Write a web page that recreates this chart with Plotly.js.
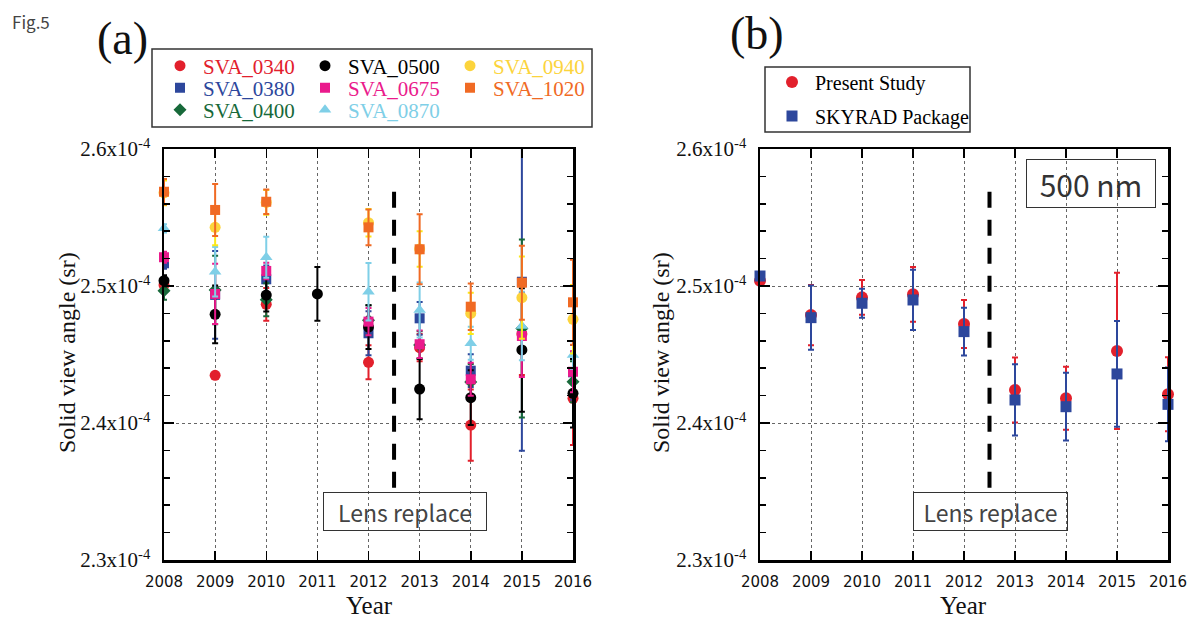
<!DOCTYPE html>
<html>
<head>
<meta charset="utf-8">
<script src="https://cdn.plot.ly/plotly-3.0.1.min.js"></script>
<style>html,body{margin:0;padding:0;background:#fff;}#chart{width:1192px;height:629px;}</style>
</head>
<body>
<div id="chart"></div>
<script>
// ---------------- DATA ----------------
const years = [2008, 2009, 2010, 2011, 2012, 2013, 2014, 2015, 2016];
const yearLabels = ['2008','2009','2010','2011','2012','2013','2014','2015','2016'];
const yTickVals = [2.3e-4, 2.4e-4, 2.5e-4, 2.6e-4];
const yTickText = ['2.3x10<sup>-4</sup>','2.4x10<sup>-4</sup>','2.5x10<sup>-4</sup>','2.6x10<sup>-4</sup>'];
const lensReplaceYear = 2012.5;

// Panel (a) : SVA per wavelength (sr)
const sva0340 = [2.5007e-4, 2.4348e-4, 2.4866e-4, null, 2.4443e-4, 2.4550e-4, 2.3985e-4, 2.4650e-4, 2.4180e-4];
const err0340 = [0.004e-4, 0.002e-4, 0.012e-4, null, 0.0124e-4, 0.010e-4, 0.026e-4, 0.030e-4, 0.034e-4];
const sva0380 = [2.5166e-4, 2.4935e-4, 2.5049e-4, null, 2.4655e-4, 2.4764e-4, 2.4382e-4, 2.5031e-4, 2.4370e-4];
const err0380 = [0.004e-4, 0.032e-4, 0.010e-4, null, 0.016e-4, 0.012e-4, 0.012e-4, 0.1233e-4, 0.020e-4];
const sva0400 = [2.4966e-4, 2.4970e-4, 2.4900e-4, null, 2.4750e-4, 2.4570e-4, 2.4300e-4, 2.4690e-4, 2.4301e-4];
const err0400 = [0.0066e-4, 0.025e-4, 0.012e-4, null, 0.011e-4, 0.010e-4, 0.013e-4, 0.065e-4, 0.015e-4];
const sva0500 = [2.5039e-4, 2.4793e-4, 2.4934e-4, 2.4942e-4, 2.4700e-4, 2.4248e-4, 2.4185e-4, 2.4533e-4, 2.4217e-4];
const err0500 = [0.004e-4, 0.021e-4, 0.012e-4, 0.0196e-4, 0.016e-4, 0.022e-4, 0.020e-4, 0.045e-4, 0.025e-4];
const sva0675 = [2.5210e-4, 2.4942e-4, 2.5110e-4, null, 2.4740e-4, 2.4575e-4, 2.4319e-4, 2.4635e-4, 2.4374e-4];
const err0675 = [0.004e-4, 0.022e-4, 0.006e-4, null, 0.010e-4, 0.010e-4, 0.012e-4, 0.030e-4, 0.015e-4];
const sva0870 = [2.5421e-4, 2.5104e-4, 2.5210e-4, null, 2.4958e-4, 2.4825e-4, 2.4582e-4, 2.4708e-4, 2.4496e-4];
const err0870 = [0.003e-4, 0.018e-4, 0.015e-4, null, 0.021e-4, 0.020e-4, 0.012e-4, 0.025e-4, 0.010e-4];
const sva0940 = [2.5680e-4, 2.5428e-4, 2.5610e-4, null, 2.5462e-4, 2.5270e-4, 2.4800e-4, 2.4915e-4, 2.4757e-4];
const err0940 = [0.009e-4, 0.013e-4, 0.009e-4, null, 0.010e-4, 0.013e-4, 0.015e-4, 0.030e-4, 0.025e-4];
const sva1020 = [2.5688e-4, 2.5555e-4, 2.5615e-4, null, 2.5428e-4, 2.5268e-4, 2.4849e-4, 2.5024e-4, 2.4881e-4];
const err1020 = [0.0093e-4, 0.019e-4, 0.009e-4, null, 0.013e-4, 0.0256e-4, 0.017e-4, 0.027e-4, 0.031e-4];

// Panel (b) : 500 nm comparison
const presentStudy = [2.5039e-4, 2.4788e-4, 2.4917e-4, 2.4939e-4, 2.4723e-4, 2.4241e-4, 2.4180e-4, 2.4526e-4, 2.4210e-4];
const presentErr   = [0.003e-4, 0.022e-4, 0.0126e-4, 0.020e-4, 0.0175e-4, 0.0237e-4, 0.023e-4, 0.057e-4, 0.027e-4];
const skyrad       = [2.5073e-4, 2.4769e-4, 2.4874e-4, 2.4898e-4, 2.4667e-4, 2.4168e-4, 2.4119e-4, 2.4358e-4, 2.4136e-4];
const skyradErr    = [0.003e-4, 0.0235e-4, 0.0106e-4, 0.022e-4, 0.0175e-4, 0.026e-4, 0.0247e-4, 0.0386e-4, 0.027e-4];

// ---------------- STYLE ----------------
const W = 1192, H = 629;
const px = v => v / W;
const py = v => 1 - v / H;
const SERIF = '"Liberation Serif", "Times New Roman", serif';
const SANS = '"Noto Sans CJK JP", "Noto Sans", sans-serif';

function series(name, y, err, color, symbol, size, legend, xa, ya, errColor, clip) {
  return {
    type: 'scatter', mode: 'markers', x: years, y: y,
    name: '<span style="color:' + color + '">' + name + '</span>',
    legend: legend, xaxis: xa, yaxis: ya,
    cliponaxis: clip,
    marker: {color: color, symbol: symbol, size: size},
    error_y: {type: 'data', array: err, visible: true, color: errColor || color, thickness: 2, width: 3}
  };
}

const C = {red:'#e2202c', blue:'#2d479c', green:'#17693a', black:'#000000', pink:'#ea1a8c',
           cyan:'#7fcfe7', yellow:'#fcd43c', orange:'#f06a24'};

const data = [
  series('SVA_0340', sva0340, err0340, C.red, 'circle', 11, 'legend', 'x', 'y', null, false),
  series('SVA_0380', sva0380, err0380, C.blue, 'square', 10, 'legend2', 'x', 'y', null, true),
  series('SVA_0400', sva0400, err0400, C.green, 'diamond', 10, 'legend3', 'x', 'y', null, false),
  series('SVA_0500', sva0500, err0500, C.black, 'circle', 11, 'legend', 'x', 'y', null, false),
  series('SVA_0675', sva0675, err0675, C.pink, 'square', 10, 'legend2', 'x', 'y', null, false),
  series('SVA_0870', sva0870, err0870, C.cyan, 'triangle-up', 11, 'legend3', 'x', 'y', null, false),
  series('SVA_0940', sva0940, err0940, C.yellow, 'circle', 11, 'legend', 'x', 'y', '#fbe818', false),
  series('SVA_1020', sva1020, err1020, C.orange, 'square', 10, 'legend2', 'x', 'y', null, false),
  {type:'scatter', mode:'markers', x: years, y: presentStudy, name:'Present Study', legend:'legend4',
   xaxis:'x2', yaxis:'y2', cliponaxis:false,
   marker:{color:C.red, symbol:'circle', size:12},
   error_y:{type:'data', array: presentErr, visible:true, color:C.red, thickness:2, width:3}},
  {type:'scatter', mode:'markers', x: years, y: skyrad, name:'SKYRAD Package', legend:'legend5',
   xaxis:'x2', yaxis:'y2', cliponaxis:false,
   marker:{color:C.blue, symbol:'square', size:11},
   error_y:{type:'data', array: skyradErr, visible:true, color:C.blue, thickness:2, width:3}}
];

function xAxis(domain, anchor) {
  return {
    domain: domain, anchor: anchor, range: [2008, 2016],
    tickmode: 'array', tickvals: years, ticktext: yearLabels,
    ticks: 'inside', ticklen: 9, tickwidth: 1.5, tickcolor: '#000', mirror: 'allticks',
    showline: true, linecolor: '#000', linewidth: 2.5,
    showgrid: true, gridcolor: '#666', griddash: 'dot', gridwidth: 1,
    zeroline: false, ticklabelstandoff: 6,
    tickfont: {family: '"DejaVu Sans", sans-serif', size: 15, color: '#111'}
  };
}
function yAxis(domain, anchor) {
  return {
    domain: domain, anchor: anchor, range: [2.3e-4, 2.6e-4],
    tickmode: 'array', tickvals: yTickVals, ticktext: yTickText,
    ticks: 'inside', ticklen: 10, tickwidth: 1.5, tickcolor: '#000', mirror: 'allticks',
    minor: {tickmode: 'linear', tick0: 2.3e-4, dtick: 2e-6, ticks: 'inside', ticklen: 6, tickwidth: 1.5, tickcolor: '#000', showgrid: false},
    showline: true, linecolor: '#000', linewidth: 2.5,
    showgrid: true, gridcolor: '#666', griddash: 'dot', gridwidth: 1,
    zeroline: false, ticklabelstandoff: 7,
    tickfont: {family: SERIF, size: 21, color: '#111'}
  };
}

const yDom = [py(560), py(149)];

function rowLegend(xpx, ypx, size, ew) {
  return {orientation: 'h', x: px(xpx), y: py(ypx), xanchor: 'left', yanchor: 'middle',
          bgcolor: 'rgba(0,0,0,0)', borderwidth: 0, entrywidth: ew, entrywidthmode: 'pixels',
          itemwidth: 36,
          font: {family: SERIF, size: size, color: '#000'}, itemclick: false};
}

const ann = (text, x, y, size, family, extra) => Object.assign({
  text: text, x: px(x), y: py(y), xref: 'paper', yref: 'paper', showarrow: false,
  xanchor: 'center', yanchor: 'middle',
  font: {family: family, size: size, color: '#111'}
}, extra || {});

const dashLine = {color:'#000', width:4, dash:'16px,12px'};

const layout = {
  width: W, height: H, margin: {l: 0, r: 0, t: 0, b: 0},
  paper_bgcolor: '#fff', plot_bgcolor: '#fff',
  xaxis: xAxis([px(164), px(573)], 'y'),
  yaxis: yAxis(yDom, 'x'),
  xaxis2: xAxis([px(760), px(1168)], 'y2'),
  yaxis2: yAxis(yDom, 'x2'),
  legend: rowLegend(157, 66, 21, 94),
  legend2: rowLegend(157, 88, 21, 94),
  legend3: rowLegend(157, 110, 21, 94),
  legend4: rowLegend(769, 82, 20, 160),
  legend5: rowLegend(769, 116, 20, 160),
  shapes: [
    {type:'rect', xref:'paper', yref:'paper', x0:px(152), x1:px(592), y0:py(49), y1:py(127), line:{color:'#333', width:1.5}},
    {type:'rect', xref:'paper', yref:'paper', x0:px(765), x1:px(970), y0:py(67), y1:py(132), line:{color:'#333', width:1.5}},
    {type:'line', xref:'x', yref:'y', x0:lensReplaceYear, x1:lensReplaceYear, y0:2.5688e-4, y1:2.3526e-4, line:dashLine},
    {type:'line', xref:'x2', yref:'y2', x0:lensReplaceYear, x1:lensReplaceYear, y0:2.5688e-4, y1:2.3526e-4, line:dashLine}
  ],
  annotations: [
    ann('Fig.5', 10, 22, 17, SANS, {xanchor:'left', font:{family:SANS, size:17, color:'#444'}}),
    ann('(a)', 122, 38, 46, SERIF),
    ann('(b)', 757, 33, 46, SERIF),
    ann('Solid view angle (sr)', 67, 353, 24, SERIF, {textangle:-90}),
    ann('Solid view angle (sr)', 661, 353, 24, SERIF, {textangle:-90}),
    ann('Year', 369, 605, 25, SERIF),
    ann('Year', 963, 605, 25, SERIF),
    ann('Lens replace', 405, 511, 23, SANS, {width:160, height:35, bordercolor:'#333', borderwidth:1, borderpad:1, font:{family:SANS, size:23, color:'#444'}}),
    ann('Lens replace', 990, 511, 23, SANS, {width:151, height:35, bordercolor:'#333', borderwidth:1, borderpad:1, font:{family:SANS, size:23, color:'#444'}}),
    ann('500 nm', 1091, 184, 30, SANS, {width:126, height:45, bordercolor:'#333', borderwidth:1, borderpad:1, font:{family:SANS, size:30, color:'#333'}})
  ]
};

Plotly.newPlot('chart', data, layout, {staticPlot: true, displayModeBar: false});
</script>
</body>
</html>
